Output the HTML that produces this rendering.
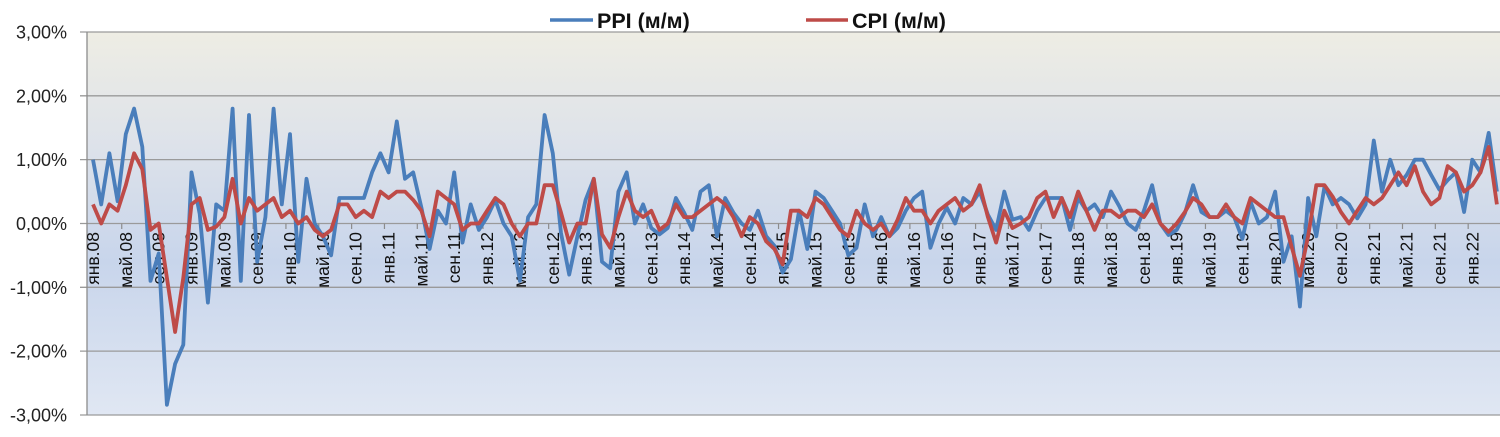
<!DOCTYPE html>
<html><head><meta charset="utf-8"><style>
html,body{margin:0;padding:0;background:#fff;width:1500px;height:437px;overflow:hidden}
svg{display:block;font-family:"Liberation Sans","DejaVu Sans",sans-serif}
</style></head><body>
<svg id="c" width="1500" height="437" xmlns="http://www.w3.org/2000/svg">
<defs><linearGradient id="bg" x1="0" y1="0" x2="0" y2="1">
<stop offset="0" stop-color="#eeede4"/><stop offset="0.3" stop-color="#dde2ea"/>
<stop offset="0.6" stop-color="#c8d5eb"/><stop offset="1" stop-color="#e0e7f3"/></linearGradient></defs>
<rect x="87" y="32" width="1413" height="383" fill="url(#bg)"/>
<g id="grid"></g>
<line x1="87" y1="32" x2="87" y2="415" stroke="#8c8c8c" stroke-width="1.3"/>
<g id="ylab" font-size="18" fill="#222" text-anchor="end"></g>
<g id="xlab" font-size="17.5" fill="#111"></g>
<polyline id="ppi" fill="none" stroke="#4a7ebb" stroke-width="3.8" stroke-linejoin="round"/>
<polyline id="cpi" fill="none" stroke="#be4b48" stroke-width="3.8" stroke-linejoin="round"/>
<line x1="550" y1="20" x2="593" y2="20" stroke="#4a7ebb" stroke-width="3.5"/>
<text x="597" y="28" font-size="21.5" font-weight="bold" fill="#111">PPI (м/м)</text>
<line x1="806" y1="20" x2="848" y2="20" stroke="#be4b48" stroke-width="3.5"/>
<text x="852" y="28" font-size="21.5" font-weight="bold" fill="#111">CPI (м/м)</text>
</svg>
<script>
var ppi=[1.0,0.3,1.1,0.35,1.4,1.8,1.2,-0.9,-0.47,-2.84,-2.2,-1.9,0.8,0.15,-1.24,0.3,0.2,1.8,-0.9,1.7,-0.6,0.1,1.8,0.3,1.4,-0.6,0.7,0,-0.2,-0.5,0.4,0.4,0.4,0.4,0.8,1.1,0.8,1.6,0.7,0.8,0.25,-0.4,0.2,0,
0.8,-0.3,0.3,-0.1,0.1,0.37,0,-0.2,-0.9,0.1,0.3,1.7,1.1,-0.15,-0.8,-0.2,0.37,0.7,-0.6,-0.7,0.5,0.8,0,0.3,-0.07,-0.17,-0.07,0.4,0.17,-0.1,0.5,0.6,-0.2,0.4,0.17,0,-0.1,0.2,-0.2,-0.35,-0.77,-0.56,0.2,
-0.4,0.5,0.4,0.2,0,-0.5,-0.38,0.3,-0.2,0.1,-0.2,-0.07,0.2,0.4,0.5,-0.38,0,0.25,0,0.4,0.3,0.5,0.14,-0.1,0.5,0.06,0.1,-0.1,0.2,0.4,0.4,0.4,-0.1,0.4,0.2,0.3,0.1,0.5,0.27,0,-0.1,0.2,
0.6,0,-0.18,-0.1,0.16,0.6,0.18,0.1,0.1,0.2,0.1,-0.24,0.34,0,0.1,0.5,-0.6,-0.2,-1.3,0.4,-0.2,0.58,0.3,0.4,0.3,0.08,0.3,1.3,0.5,1.0,0.6,0.76,1.0,1.0,0.76,0.53,0.68,0.8,0.18,1.0,0.8,1.42,0.5];
var cpi=[0.3,0,0.3,0.2,0.6,1.1,0.85,-0.1,0,-0.85,-1.7,-0.85,0.3,0.4,-0.1,-0.05,0.1,0.7,0,0.4,0.2,0.3,0.4,0.1,0.2,0,0.1,-0.1,-0.2,-0.1,0.3,0.3,0.1,0.2,0.1,0.5,0.4,0.5,0.5,0.37,0.2,-0.2,0.5,0.4,
0.3,-0.1,0,0,0.2,0.4,0.3,0,-0.2,0,0,0.6,0.6,0.17,-0.3,0,0,0.7,-0.17,-0.38,0.1,0.5,0.2,0.1,0.2,-0.1,0,0.3,0.1,0.1,0.2,0.3,0.4,0.3,0.1,-0.2,0.1,0,-0.28,-0.4,-0.64,0.2,0.2,
0.1,0.4,0.3,0.1,-0.1,-0.2,0.2,0,-0.1,0,-0.2,0.06,0.4,0.2,0.2,0,0.2,0.3,0.4,0.2,0.3,0.6,0.1,-0.3,0.2,-0.07,0,0.1,0.4,0.5,0.1,0.4,0.1,0.5,0.2,-0.1,0.2,0.2,0.1,0.2,0.2,0.1,
0.3,0,-0.13,0,0.18,0.4,0.3,0.1,0.1,0.3,0.1,0,0.4,0.3,0.2,0.1,0.1,-0.37,-0.82,-0.2,0.6,0.6,0.42,0.18,0,0.2,0.4,0.3,0.4,0.6,0.8,0.6,0.9,0.5,0.3,0.4,0.9,0.8,0.5,0.6,0.8,1.2,0.3];
function X(i){return 93+8.21*i}
function Y(v){return 223.5-v*63.83}
function pts(a){return a.map(function(v,i){return X(i).toFixed(1)+','+Y(v).toFixed(1)}).join(' ')}
document.getElementById('ppi').setAttribute('points',pts(ppi));
document.getElementById('cpi').setAttribute('points',pts(cpi));
var ns='http://www.w3.org/2000/svg',g=document.getElementById('grid'),yl=document.getElementById('ylab'),xl=document.getElementById('xlab');
function el(t,a,p){var e=document.createElementNS(ns,t);for(var k in a)e.setAttribute(k,a[k]);p.appendChild(e);return e}
var labs=['3,00%','2,00%','1,00%','0,00%','-1,00%','-2,00%','-3,00%'];
for(var k=0;k<7;k++){var y=32+k*63.83;
 el('line',{x1:80,x2:1500,y1:y,y2:y,stroke:'#9a9a9a','stroke-width':1.3},g);
 var t=el('text',{x:67,y:y+6.5},yl);t.textContent=labs[k];}
for(var i=3.5;i<172;i+=4){el('line',{x1:X(i),x2:X(i),y1:223.5,y2:229,stroke:'#8c8c8c','stroke-width':1.2},g);}
var mn=['янв.','май.','сен.'];
for(var i=0;i<172;i+=4){var yr=8+Math.floor(i/12);var s=mn[(i%12)/4]+(yr<10?'0':'')+yr;
 var x=X(i)+6;var t=el('text',{x:x,y:232,'text-anchor':'end',transform:'rotate(-90 '+x+' 232)'},xl);t.textContent=s;}
</script>
</body></html>
